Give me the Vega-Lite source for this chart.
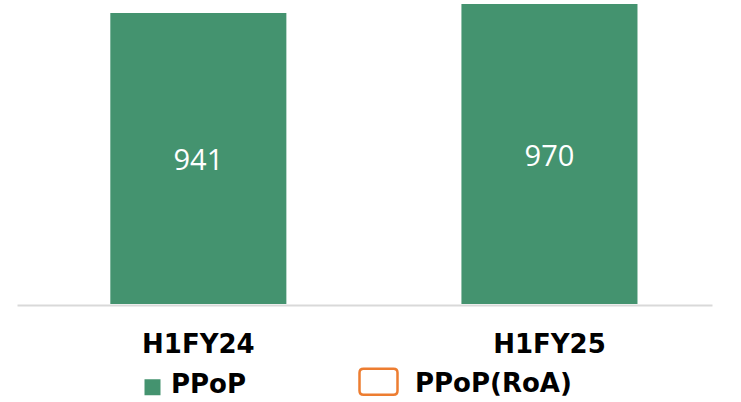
{
  "$schema": "https://vega.github.io/schema/vega-lite/v6.json",
  "width": 695,
  "height": 304,
  "autosize": "none",
  "padding": {"left": 17, "top": 0, "right": 29, "bottom": 98},
  "background": "white",
  "config": {"view": {"stroke": null}},
  "data": {
    "values": [
      {"period": "H1FY24", "series": "PPoP", "value": 941},
      {"period": "H1FY25", "series": "PPoP", "value": 970}
    ]
  },
  "encoding": {
    "x": {
      "field": "period",
      "type": "nominal",
      "sort": null,
      "scale": {"paddingInner": 0.4986, "paddingOuter": 0.239, "align": 0.556},
      "axis": {
        "title": null,
        "labelAngle": 0,
        "labelFont": "DejaVu Sans",
        "labelFontWeight": "bold",
        "labelFontSize": 26,
        "labelColor": "#000000",
        "labelBaseline": "alphabetic",
        "ticks": false,
        "tickSize": 0,
        "labelPadding": 47,
        "offset": 1,
        "domainColor": "#d9d9d9",
        "domainWidth": 2,
        "grid": false
      }
    }
  },
  "layer": [
    {
      "mark": {"type": "bar"},
      "encoding": {
        "y": {"field": "value", "type": "quantitative", "scale": {"domain": [0, 983]}, "axis": null},
        "color": {
          "field": "series",
          "type": "nominal",
          "scale": {"domain": ["PPoP", "PPoP(RoA)"], "range": ["#44936f", "#ED7D31"]},
          "legend": {
            "orient": "none",
            "legendX": 96,
            "legendY": 362,
            "direction": "horizontal",
            "title": null,
            "symbolSize": 1600,
            "labelFont": "DejaVu Sans",
            "labelFontWeight": "bold",
            "labelFontSize": 26,
            "labelColor": "#000000",
            "labelOffset": 15,
            "columnPadding": 107,
            "padding": 0,
            "labelLimit": 300,
            "encode": {
              "symbols": {
                "update": {
                  "shape": {"signal": "datum.value === 'PPoP' ? 'M0.5,-0.3H1.3V0.5H0.5Z' : 'M-0.75,-0.75H0.75Q0.95,-0.75 0.95,-0.55V0.35Q0.95,0.55 0.75,0.55H-0.75Q-0.95,0.55 -0.95,0.35V-0.55Q-0.95,-0.75 -0.75,-0.75Z'"},
                  "fillOpacity": {"signal": "datum.value === 'PPoP' ? 1 : 0"},
                  "strokeOpacity": {"signal": "datum.value === 'PPoP' ? 0 : 1"},
                  "stroke": {"value": "#ED7D31"},
                  "strokeWidth": {"value": 2.5},
                  "opacity": {"value": 1}
                }
              }
            }
          }
        }
      }
    },
    {
      "mark": {"type": "text", "color": "white", "font": "Open Sans", "fontSize": 29, "baseline": "middle", "align": "center", "dy": 3},
      "encoding": {
        "y": {"field": "value", "type": "quantitative", "scale": {"domain": [0, 1966]}, "axis": null},
        "text": {"field": "value", "type": "quantitative"}
      }
    }
  ],
  "resolve": {"scale": {"y": "independent"}}
}
